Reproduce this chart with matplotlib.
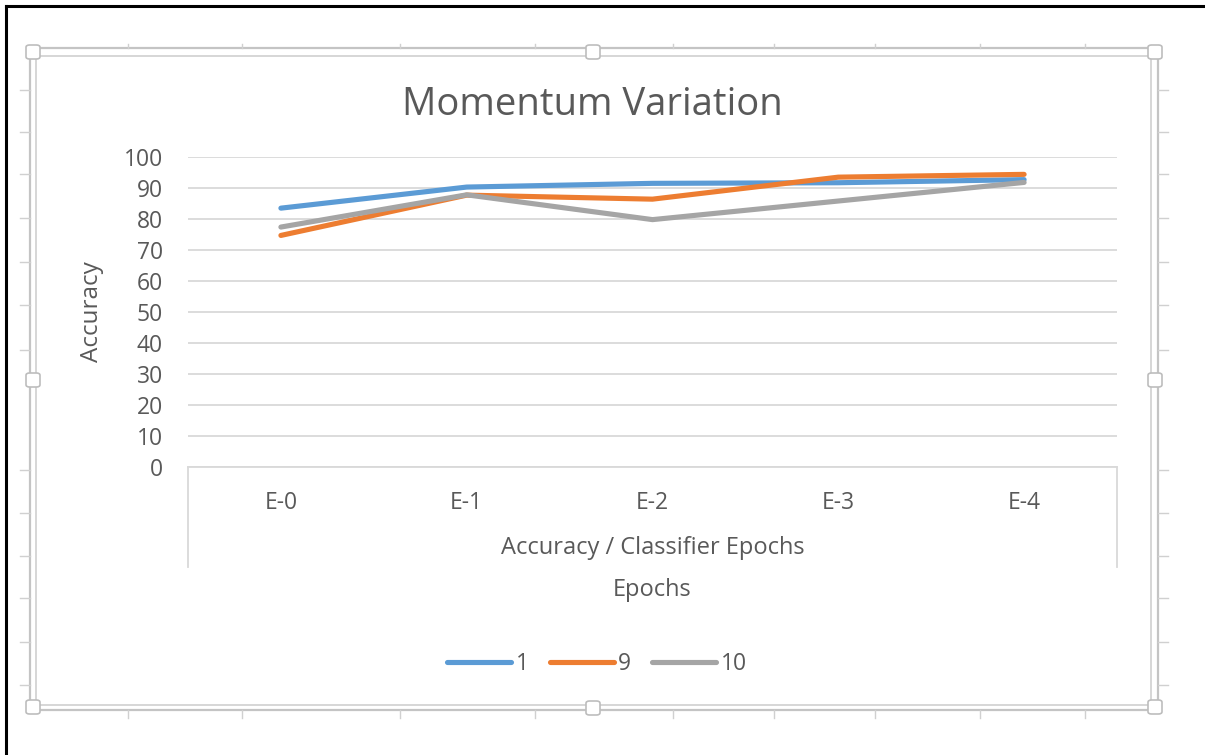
import matplotlib
matplotlib.use("Agg")
import matplotlib.pyplot as plt
from matplotlib.lines import Line2D
from matplotlib.patches import Rectangle, FancyBboxPatch

plt.rcParams['font.family'] = ['Open Sans', 'DejaVu Sans']

# ---- data ----
categories = ["E-0", "E-1", "E-2", "E-3", "E-4"]
series_names = ["1", "9", "10"]
momentum_1 = [83.5, 90.3, 91.5, 91.7, 92.7]
momentum_9 = [74.7, 87.7, 86.4, 93.5, 94.4]
momentum_10 = [77.4, 87.8, 79.8, 85.8, 91.8]
y_ticks = [0, 10, 20, 30, 40, 50, 60, 70, 80, 90, 100]

colors = ["#5B9BD5", "#ED7D31", "#A5A5A5"]
text_color = "#595959"
grid_color = "#D9D9D9"
small_fs = 16.5

W, H = 1205, 755
fig = plt.figure(figsize=(W / 100, H / 100), dpi=100)


def fx(x):
    return x / W


def fy(y):
    return 1 - y / H


# ---- outer screenshot border ----
fig.add_artist(Line2D([fx(6), fx(6)], [fy(6), fy(755)], color="black", lw=2.2))
fig.add_artist(Line2D([fx(6), fx(1205)], [fy(6), fy(6)], color="black", lw=2.2))

# ---- chart frame (double outline) ----
fig.add_artist(Rectangle((fx(30), fy(710)), fx(1158) - fx(30), fy(48) - fy(710),
                         fill=False, ec="#C4C4C4", lw=1.6))
fig.add_artist(Rectangle((fx(36), fy(705)), fx(1151) - fx(36), fy(56) - fy(705),
                         fill=False, ec="#D6D6D6", lw=1.4))

# sheet ruler stubs around the frame
row_marks = [90, 132, 174, 218, 262, 305, 350, 470, 513, 556, 598, 642, 685]
col_marks = [128, 242, 400, 535, 673, 774, 875, 980, 1085]
for ym in row_marks:
    fig.add_artist(Line2D([fx(20), fx(30)], [fy(ym), fy(ym)], color="#D0D0D0", lw=1.0))
    fig.add_artist(Line2D([fx(1158), fx(1168)], [fy(ym), fy(ym)], color="#D0D0D0", lw=1.0))
for xm in col_marks:
    fig.add_artist(Line2D([fx(xm), fx(xm)], [fy(44), fy(48)], color="#D0D0D0", lw=1.0))
    fig.add_artist(Line2D([fx(xm), fx(xm)], [fy(710), fy(718)], color="#D0D0D0", lw=1.0))

# selection handles
handles_px = [(33, 52), (1155, 52), (33, 707), (1155, 707),
              (593, 52), (593, 708), (33, 380), (1155, 380)]
for hx, hy in handles_px:
    s = 14
    fig.add_artist(FancyBboxPatch((fx(hx - s / 2), fy(hy + s / 2)), fx(s), fy(0) - fy(s),
                                  boxstyle="round,pad=0,rounding_size=0.003",
                                  fc="white", ec="#BDBDBD", lw=1.2))

# ---- plot area ----
left, right, top, bottom = 188, 1117, 157, 467
ax = fig.add_axes([fx(left), fy(bottom), fx(right) - fx(left), fy(top) - fy(bottom)])
x = list(range(len(categories)))

for vals, c, name in zip([momentum_1, momentum_9, momentum_10], colors, series_names):
    ax.plot(x, vals, color=c, lw=3.7, solid_capstyle="round", solid_joinstyle="round",
            label=name, zorder=3)

ax.set_xlim(-0.5, len(categories) - 0.5)
ax.set_ylim(0, 100)
ax.set_yticks(y_ticks)
ax.set_yticklabels([str(v) for v in y_ticks])
ax.set_xticks(x)
ax.set_xticklabels(categories)
ax.grid(axis="y", color=grid_color, lw=1.3)
ax.set_axisbelow(True)
for side in ["left", "right", "top"]:
    ax.spines[side].set_visible(False)
ax.spines["bottom"].set_color(grid_color)
ax.spines["bottom"].set_linewidth(1.3)
ax.tick_params(axis="both", length=0, labelsize=small_fs, labelcolor=text_color)
ax.tick_params(axis="x", pad=17)
ax.tick_params(axis="y", pad=18)

# category group boundaries
plot_h = bottom - top
ax.plot([0, 0], [0, -(567 - bottom) / plot_h], transform=ax.transAxes,
        color=grid_color, lw=1.3, clip_on=False)
ax.plot([1, 1], [0, -(567 - bottom) / plot_h], transform=ax.transAxes,
        color=grid_color, lw=1.3, clip_on=False)
ax.text(0.5, -(548 - bottom) / plot_h, "Accuracy / Classifier Epochs",
        transform=ax.transAxes, ha="center", va="center", fontsize=small_fs + 0.5,
        color=text_color)
ax.text(0.5, -(590 - bottom) / plot_h, "Epochs",
        transform=ax.transAxes, ha="center", va="center", fontsize=small_fs + 0.5,
        color=text_color)

ax.set_ylabel("Accuracy", fontsize=small_fs + 1, color=text_color)
ax.yaxis.set_label_coords(-(left - 104) / (right - left), 0.5)

# title
fig.text(fx(592), fy(105), "Momentum Variation", ha="center", va="center",
         fontsize=27.5, color=text_color)

# legend
fig.legend(loc="center", bbox_to_anchor=(fx(597), fy(664)), ncol=3, frameon=False,
           fontsize=small_fs, labelcolor=text_color, handlelength=2.8, handletextpad=0.2,
           columnspacing=0.9)

fig.savefig("out.png", dpi=100, facecolor="white")
